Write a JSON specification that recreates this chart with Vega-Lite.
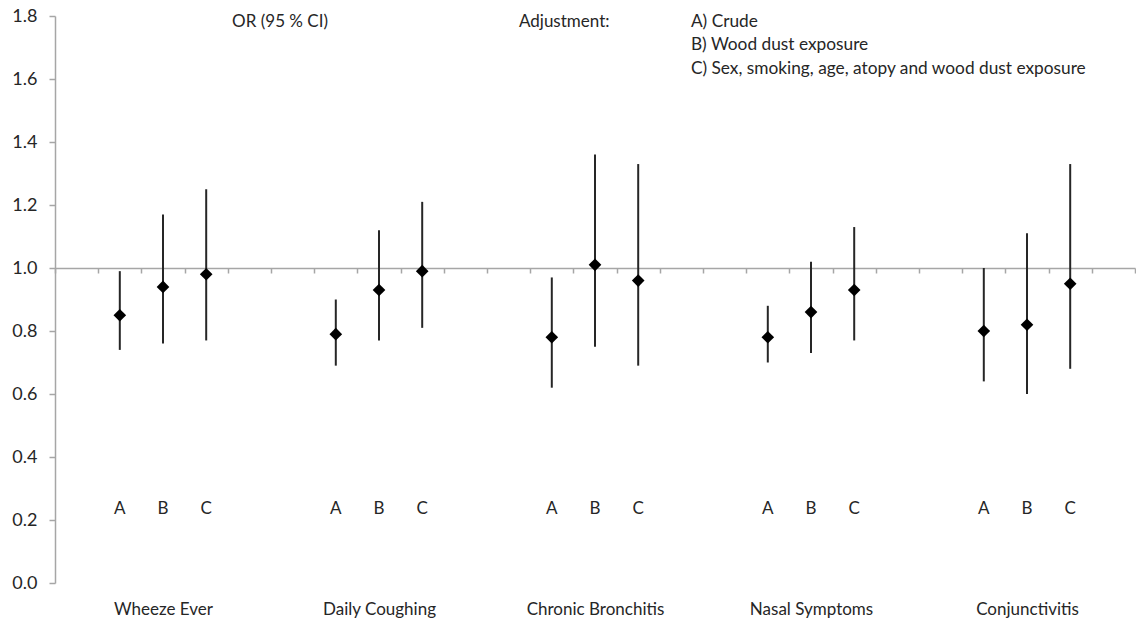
{
  "$schema": "https://vega.github.io/schema/vega-lite/v6.json",
  "width": 1080,
  "height": 567,
  "autosize": {"type": "none"},
  "padding": {"left": 55, "top": 16, "right": 1, "bottom": 37},
  "background": "white",
  "config": {"font": "Lato", "view": {"stroke": null}},
  "data": {
    "values": [
      {"outcome": "Wheeze Ever", "adjustment": "A", "slot": "Wheeze Ever|A", "or": 0.85, "lo": 0.74, "hi": 0.99},
      {"outcome": "Wheeze Ever", "adjustment": "B", "slot": "Wheeze Ever|B", "or": 0.94, "lo": 0.76, "hi": 1.17},
      {"outcome": "Wheeze Ever", "adjustment": "C", "slot": "Wheeze Ever|C", "or": 0.98, "lo": 0.77, "hi": 1.25},
      {"outcome": "Daily Coughing", "adjustment": "A", "slot": "Daily Coughing|A", "or": 0.79, "lo": 0.69, "hi": 0.90},
      {"outcome": "Daily Coughing", "adjustment": "B", "slot": "Daily Coughing|B", "or": 0.93, "lo": 0.77, "hi": 1.12},
      {"outcome": "Daily Coughing", "adjustment": "C", "slot": "Daily Coughing|C", "or": 0.99, "lo": 0.81, "hi": 1.21},
      {"outcome": "Chronic Bronchitis", "adjustment": "A", "slot": "Chronic Bronchitis|A", "or": 0.78, "lo": 0.62, "hi": 0.97},
      {"outcome": "Chronic Bronchitis", "adjustment": "B", "slot": "Chronic Bronchitis|B", "or": 1.01, "lo": 0.75, "hi": 1.36},
      {"outcome": "Chronic Bronchitis", "adjustment": "C", "slot": "Chronic Bronchitis|C", "or": 0.96, "lo": 0.69, "hi": 1.33},
      {"outcome": "Nasal Symptoms", "adjustment": "A", "slot": "Nasal Symptoms|A", "or": 0.78, "lo": 0.70, "hi": 0.88},
      {"outcome": "Nasal Symptoms", "adjustment": "B", "slot": "Nasal Symptoms|B", "or": 0.86, "lo": 0.73, "hi": 1.02},
      {"outcome": "Nasal Symptoms", "adjustment": "C", "slot": "Nasal Symptoms|C", "or": 0.93, "lo": 0.77, "hi": 1.13},
      {"outcome": "Conjunctivitis", "adjustment": "A", "slot": "Conjunctivitis|A", "or": 0.80, "lo": 0.64, "hi": 1.00},
      {"outcome": "Conjunctivitis", "adjustment": "B", "slot": "Conjunctivitis|B", "or": 0.82, "lo": 0.60, "hi": 1.11},
      {"outcome": "Conjunctivitis", "adjustment": "C", "slot": "Conjunctivitis|C", "or": 0.95, "lo": 0.68, "hi": 1.33}
    ]
  },
  "encoding": {
    "x": {
      "field": "slot",
      "type": "nominal",
      "scale": {
        "type": "band",
        "paddingInner": 0,
        "paddingOuter": 0,
        "domain": [
          "Wheeze Ever|0", "Wheeze Ever|A", "Wheeze Ever|B", "Wheeze Ever|C", "Wheeze Ever|4",
          "Daily Coughing|0", "Daily Coughing|A", "Daily Coughing|B", "Daily Coughing|C", "Daily Coughing|4",
          "Chronic Bronchitis|0", "Chronic Bronchitis|A", "Chronic Bronchitis|B", "Chronic Bronchitis|C", "Chronic Bronchitis|4",
          "Nasal Symptoms|0", "Nasal Symptoms|A", "Nasal Symptoms|B", "Nasal Symptoms|C", "Nasal Symptoms|4",
          "Conjunctivitis|0", "Conjunctivitis|A", "Conjunctivitis|B", "Conjunctivitis|C", "Conjunctivitis|4"
        ]
      },
      "axis": {
        "title": null,
        "orient": "bottom",
        "offset": -315,
        "domainColor": "#a6a6a6",
        "domainWidth": 1.5,
        "tickColor": "#a6a6a6",
        "tickWidth": 1.5,
        "tickSize": 5,
        "tickBand": "extent",
        "labelExpr": "slice(datum.label, -2) == '|B' ? slice(datum.label, 0, -2) : ''",
        "labelPadding": 328,
        "labelFontSize": 17,
        "labelColor": "#262626",
        "labelAngle": 0,
        "labelBaseline": "top",
        "labelOverlap": false,
        "labelBound": false,
        "labelFlush": false
      }
    }
  },
  "layer": [
    {
      "mark": {"type": "rule", "color": "#262626", "strokeWidth": 2},
      "encoding": {
        "y": {
          "field": "lo",
          "type": "quantitative",
          "scale": {"domain": [0, 1.8], "nice": false, "zero": true},
          "axis": {
            "title": null,
            "values": [0, 0.2, 0.4, 0.6, 0.8, 1.0, 1.2, 1.4, 1.6, 1.8],
            "format": ".1f",
            "grid": false,
            "domainColor": "#a6a6a6",
            "domainWidth": 1.5,
            "tickColor": "#a6a6a6",
            "tickWidth": 1.5,
            "tickSize": 6,
            "labelPadding": 12,
            "labelFontSize": 18,
            "labelColor": "#262626"
          }
        },
        "y2": {"field": "hi"}
      }
    },
    {
      "mark": {"type": "point", "shape": "diamond", "filled": true, "color": "#000000", "size": 160, "opacity": 1},
      "encoding": {
        "y": {"field": "or", "type": "quantitative"}
      }
    },
    {
      "mark": {"type": "text", "fontSize": 17, "color": "#262626", "baseline": "middle", "align": "center"},
      "encoding": {
        "y": {"datum": 0.235, "type": "quantitative"},
        "text": {"field": "adjustment", "type": "nominal"}
      }
    },
    {
      "data": {"values": [{"note": "OR (95 % CI)"}]},
      "mark": {"type": "text", "fontSize": 17, "color": "#262626", "baseline": "middle", "align": "left"},
      "encoding": {
        "x": {"datum": "Wheeze Ever|4", "type": "nominal", "bandPosition": 0.1},
        "y": {"datum": 1.781, "type": "quantitative"},
        "text": {"field": "note", "type": "nominal"}
      }
    },
    {
      "data": {"values": [{"note": "Adjustment:"}]},
      "mark": {"type": "text", "fontSize": 17, "color": "#262626", "baseline": "middle", "align": "left"},
      "encoding": {
        "x": {"datum": "Chronic Bronchitis|0", "type": "nominal", "bandPosition": 0.74},
        "y": {"datum": 1.781, "type": "quantitative"},
        "text": {"field": "note", "type": "nominal"}
      }
    },
    {
      "data": {"values": [{"note": "legend"}]},
      "mark": {
        "type": "text",
        "fontSize": 17.3,
        "color": "#262626",
        "baseline": "middle",
        "align": "left",
        "lineHeight": 23.5,
        "text": ["A) Crude", "B) Wood dust exposure", "C) Sex, smoking, age, atopy and wood dust exposure"]
      },
      "encoding": {
        "x": {"datum": "Chronic Bronchitis|4", "type": "nominal", "bandPosition": 0.72},
        "y": {"datum": 1.781, "type": "quantitative"}
      }
    }
  ]
}
